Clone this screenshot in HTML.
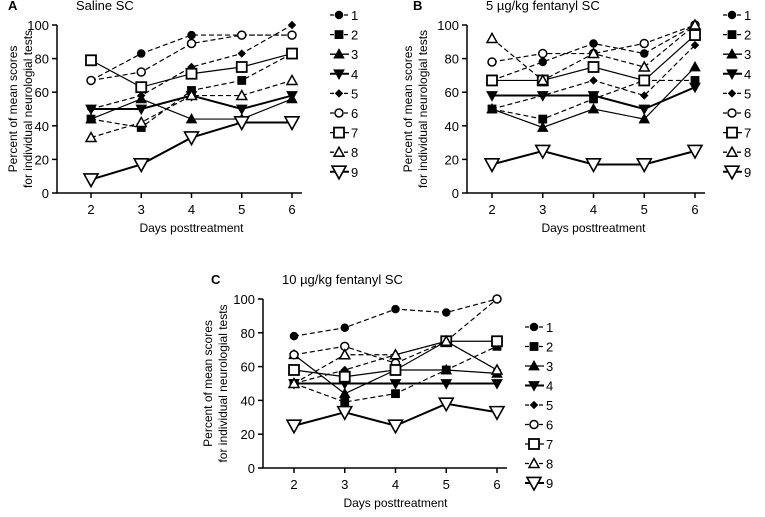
<!DOCTYPE html>
<html><head><meta charset="utf-8"><style>
body{margin:0;background:#fff;width:765px;height:512px;overflow:hidden}
svg{font-family:"Liberation Sans",sans-serif}
</style></head><body>
<svg id="chart" width="765" height="512" xmlns="http://www.w3.org/2000/svg"></svg>
<script>
const days = [2,3,4,5,6];
const yTicks = [0,20,40,60,80,100];
const seriesNames = ["1","2","3","4","5","6","7","8","9"];
const dataA1=[67,83,94,94,94], dataA2=[44,39,61,67,83], dataA3=[44,56,44,44,56], dataA4=[50,50,58,50,58], dataA5=[50,58,75,83,100], dataA6=[67,72,89,94,94], dataA7=[79,63,71,75,83], dataA8=[33,42,58,58,67], dataA9=[8,17,33,42,42];
const dataB1=[67,78,89,83,100], dataB2=[50,44,56,67,67], dataB3=[50,39,50,44,75], dataB4=[58,58,58,50,63], dataB5=[50,58,67,58,88], dataB6=[78,83,83,89,100], dataB7=[67,67,75,67,94], dataB8=[92,67,83,75,100], dataB9=[17,25,17,17,25];
const dataC1=[78,83,94,92,100], dataC2=[50,39,44,58,72], dataC3=[67,44,58,58,56], dataC4=[50,50,50,50,50], dataC5=[50,58,67,75,58], dataC6=[67,72,62,75,100], dataC7=[58,54,58,75,75], dataC8=[50,67,67,75,58], dataC9=[25,33,25,38,33];

const styles=[
 {dash:true,m:'circle',fill:true,s:3.5},{dash:true,m:'square',fill:true,s:3.5},{dash:false,m:'tri',fill:true,s:4.5},
 {dash:false,m:'dtri',fill:true,s:4.5,w:2},{dash:true,m:'diamond',fill:true,s:3.5},{dash:true,m:'circle',fill:false,s:4},
 {dash:false,m:'square',fill:false,s:5},{dash:true,m:'tri',fill:false,s:5},{dash:false,m:'dtri',fill:false,s:7,w:2}];
const NS="http://www.w3.org/2000/svg";
const svg=document.getElementById('chart');
function el(t,a,p){const e=document.createElementNS(NS,t);for(const k in a)e.setAttribute(k,a[k]);(p||svg).appendChild(e);return e;}
function txt(s,a,p){const e=el('text',a,p);e.textContent=s;return e;}
function marker(g,st,x,y){const s=st.s,f=st.fill?'#000':'#fff';let e;
 if(st.m==='circle')e=el('circle',{cx:x,cy:y,r:s,fill:f,stroke:'#000','stroke-width':1.5},g);
 else if(st.m==='square')e=el('rect',{x:x-s,y:y-s,width:2*s,height:2*s,fill:f,stroke:'#000','stroke-width':1.8},g);
 else if(st.m==='tri')e=el('polygon',{points:`${x},${y-s} ${x-s},${y+s*0.8} ${x+s},${y+s*0.8}`,fill:f,stroke:'#000','stroke-width':1.5},g);
 else if(st.m==='dtri')e=el('polygon',{points:`${x},${y+s} ${x-s},${y-s*0.8} ${x+s},${y-s*0.8}`,fill:f,stroke:'#000','stroke-width':1.6},g);
 else e=el('polygon',{points:`${x},${y-s} ${x-s},${y} ${x},${y+s} ${x+s},${y}`,fill:f,stroke:'#000','stroke-width':1},g);
 return e;}
function panel(id,letter,title,series,P){
 const g=el('g',{});
 const xs=d=>P.x2+(d-2)*(P.x6-P.x2)/4, ys=v=>P.y0+(P.y100-P.y0)*v/100;
 const lt=txt(letter,{x:P.lletter,y:P.y100-15,'font-size':13,'font-weight':'bold'},g);
 const tt=txt(title,{x:P.ax+19,y:P.y100-15,'font-size':13},g);
 const axis=el('path',{d:`M${P.ax},${P.y100} V${P.y0} H${xs(6)+10}`,stroke:'#000','stroke-width':1.5,fill:'none'},g);
 
 yTicks.forEach(v=>{el('line',{x1:P.ax-5,x2:P.ax,y1:ys(v),y2:ys(v),stroke:'#000','stroke-width':1.5},g);
  const t=txt(v,{x:P.ax-8,y:ys(v)+5,'font-size':13,'text-anchor':'end'},g);});
 days.forEach(d=>{el('line',{x1:xs(d),x2:xs(d),y1:P.y0,y2:P.y0+5,stroke:'#000','stroke-width':1.5},g);
  const t=txt(d,{x:xs(d),y:P.y0+21,'font-size':13,'text-anchor':'middle'},g);});
 const xt=txt('Days posttreatment',{x:(xs(2)+xs(6))/2,y:P.y0+39,'font-size':12,'text-anchor':'middle'},g);
 const cy=(P.y0+P.y100)/2;
 const yt=el('text',{transform:`translate(${P.ycx},${cy}) rotate(-90)`,'font-size':12,'text-anchor':'middle'},g);
 
 const t1=el('tspan',{x:0,y:-3},yt);t1.textContent='Percent of mean scores';
 const t2=el('tspan',{x:0,y:12},yt);t2.textContent='for individual neurologial tests';
 series.forEach((vals,i)=>{const st=styles[i];const sg=el('g',{},g);
  
  el('polyline',{points:vals.map((v,j)=>xs(days[j])+','+ys(v)).join(' '),fill:'none',stroke:'#000','stroke-width':st.w||1.2,'stroke-dasharray':st.dash?'5,3':'none'},sg);
  vals.forEach((v,j)=>{const m=marker(sg,st,xs(days[j]),ys(v));});
  const ly=P.ly+i*P.lstep;const lg=el('g',{},g);
  el('line',{x1:P.lx,x2:P.lx+19,y1:ly,y2:ly,stroke:'#000','stroke-width':st.w||1.3,'stroke-dasharray':st.dash?'4,3':'none'},lg);
  marker(lg,st,P.lx+9,ly);
  txt(seriesNames[i],{x:P.lx+21,y:ly+5,'font-size':13},lg);
 });
}
panel('a','A','Saline SC',[dataA1,dataA2,dataA3,dataA4,dataA5,dataA6,dataA7,dataA8,dataA9],{ax:57,x2:91,x6:292,y100:25,y0:193,lx:330,ly:15,lstep:19.6,ycx:20,lletter:8});
panel('b','B','5 µg/kg fentanyl SC',[dataB1,dataB2,dataB3,dataB4,dataB5,dataB6,dataB7,dataB8,dataB9],{ax:467,x2:492,x6:695,y100:25,y0:193,lx:723,ly:15,lstep:19.6,ycx:415,lletter:413});
panel('c','C','10 µg/kg fentanyl SC',[dataC1,dataC2,dataC3,dataC4,dataC5,dataC6,dataC7,dataC8,dataC9],{ax:263,x2:294,x6:497,y100:299,y0:468,lx:525,ly:327,lstep:19.5,ycx:215,lletter:211});
</script>
</body></html>
